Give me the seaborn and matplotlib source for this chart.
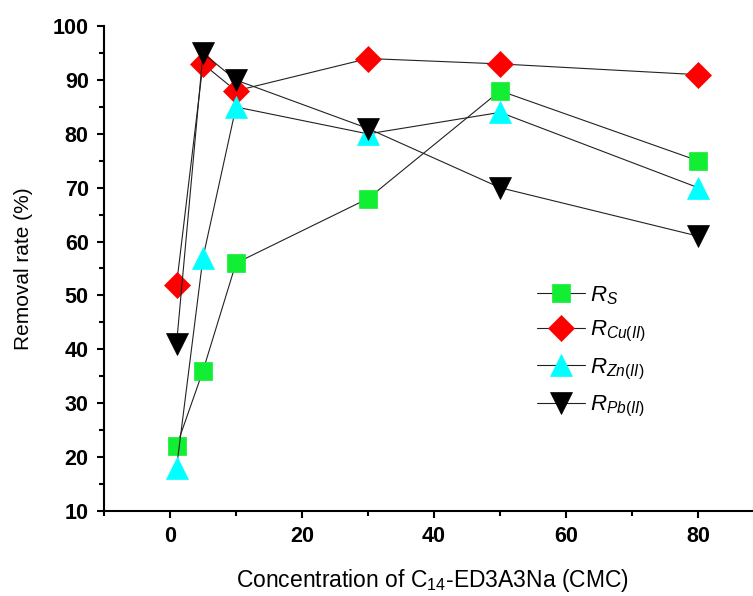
import seaborn as sns
import matplotlib.pyplot as plt
import pandas as pd
from matplotlib.ticker import MultipleLocator

# concentration of C14-ED3A3Na (CMC)
conc = [1, 5, 10, 30, 50, 80]

# removal rates (%)
r_s = [22, 36, 56, 68, 88, 75]
r_cu = [52, 93, 88, 94, 93, 91]
r_zn = [18, 57, 85, 80, 84, 70]
r_pb = [41, 95, 90, 81, 70, 61]

labels = [r'$R_{S}$', r'$R_{Cu(II)}$', r'$R_{Zn(II)}$', r'$R_{Pb(II)}$']
colors = ['#11ee33', '#ff0000', '#00ffff', '#000000']
markers = ['s', 'D', '^', 'v']
sizes = [13, 13.5, 15.5, 15.5]

sns.set_style('ticks')
plt.rcParams['font.family'] = ['Liberation Sans', 'DejaVu Sans']
plt.rcParams['mathtext.fontset'] = 'custom'
plt.rcParams['mathtext.it'] = 'Liberation Sans:italic'
plt.rcParams['mathtext.rm'] = 'Liberation Sans'
plt.rcParams['text.color'] = 'black'
plt.rcParams['xtick.color'] = 'black'
plt.rcParams['ytick.color'] = 'black'
plt.rcParams['axes.edgecolor'] = 'black'
plt.rcParams['axes.labelcolor'] = 'black'

df = pd.DataFrame({'conc': conc, 'Rs': r_s, 'Rcu': r_cu, 'Rzn': r_zn, 'Rpb': r_pb})

fig = plt.figure(figsize=(7.53, 5.96), dpi=100)
ax = fig.add_axes([0.138, 0.143, 0.877, 0.813])

for col, lab, c, m, ms in zip(['Rs', 'Rcu', 'Rzn', 'Rpb'], labels, colors, markers, sizes):
    sns.lineplot(data=df, x='conc', y=col, ax=ax, color='#222222', linewidth=0.8,
                 marker=m, markersize=ms, markerfacecolor=c, markeredgecolor=c,
                 markeredgewidth=0.5, label=lab)

ax.set_xlim(-10, 90)
ax.set_ylim(10, 100)
ax.xaxis.set_major_locator(MultipleLocator(20))
ax.xaxis.set_minor_locator(MultipleLocator(10))
ax.yaxis.set_major_locator(MultipleLocator(10))
ax.yaxis.set_minor_locator(MultipleLocator(5))
ax.tick_params(which='major', length=5, width=1.5, labelsize=15.5, direction='out')
ax.tick_params(which='minor', length=3.5, width=1.5, direction='out')
ax.tick_params(axis='x', pad=6)
ax.tick_params(axis='y', pad=6)
for t in ax.get_xticklabels() + ax.get_yticklabels():
    t.set_fontweight('bold')
for s in ['left', 'bottom']:
    ax.spines[s].set_linewidth(1.5)
sns.despine(ax=ax)

ax.set_xlabel('Concentration of C$_{14}$-ED3A3Na (CMC)', fontsize=16.5)
ax.set_ylabel('Removal rate (%)', fontsize=15)
ax.xaxis.set_label_coords(0.497, -0.117)
ax.yaxis.set_label_coords(-0.108, 0.5)

ax.legend(loc='upper left', bbox_to_anchor=(0.686, 0.557), bbox_transform=fig.transFigure,
          frameon=False, fontsize=16, handlelength=2.2, handletextpad=0.2,
          labelspacing=0.56)

fig.savefig('out.png', dpi=100)
